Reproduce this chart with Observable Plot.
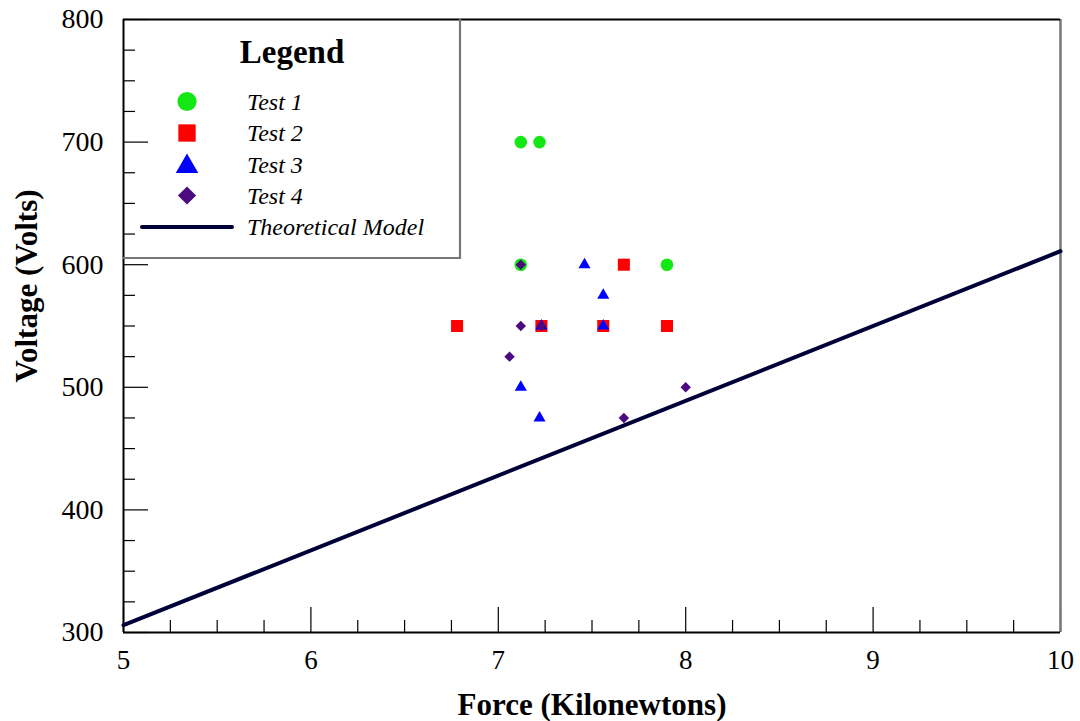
<!DOCTYPE html>
<html>
<head>
<meta charset="utf-8">
<script src="https://cdn.jsdelivr.net/npm/d3@7"></script>
<script src="https://cdn.jsdelivr.net/npm/@observablehq/plot@0.6"></script>
<style>
  html, body { margin: 0; padding: 0; background: #fff; }
  #chart { width: 1080px; height: 721px; }
</style>
</head>
<body>
<div id="chart"></div>
<script>
// ---- data ----
const test1X = [7.12, 7.22, 7.12, 7.90];
const test1Y = [700, 700, 600, 600];
const test2X = [6.78, 7.23, 7.56, 7.67, 7.90];
const test2Y = [550, 550, 550, 600, 550];
const test3X = [7.46, 7.56, 7.23, 7.56, 7.12, 7.22];
const test3Y = [600, 575, 550, 550, 500, 475];
const test4X = [7.12, 7.12, 7.23, 7.06, 8.00, 7.67];
const test4Y = [600, 550, 550, 525, 500, 475];
const modelX = [5, 10];
const modelY = [306, 611];

const xMajor = [5, 6, 7, 8, 9, 10];
const yMajor = [300, 400, 500, 600, 700, 800];
const xMinor = d3.range(5, 10.001, 0.25).filter(v => !xMajor.includes(v));
const yMinor = d3.range(300, 800.001, 25).filter(v => !yMajor.includes(v));

const seriesNames = ["Test 1", "Test 2", "Test 3", "Test 4", "Theoretical Model"];
const colors = ["#14e814", "#ff0000", "#0000ff", "#4b0a7e", "#000038"];
const xTitle = "Force (Kilonewtons)";
const yTitle = "Voltage (Volts)";
const legendTitle = "Legend";

const zip = (xs, ys) => xs.map((x, i) => ({x, y: ys[i]}));

const W = 1080, H = 721;
const mL = 123, mR = 20, mT = 19, mB = 89;
const plotW = W - mL - mR, plotH = H - mT - mB;
const FONT = "'Liberation Serif', 'Times New Roman', serif";

const chart = Plot.plot({
  width: W, height: H,
  marginLeft: mL, marginRight: mR, marginTop: mT, marginBottom: mB,
  style: {fontFamily: FONT, fontSize: "28px", color: "#000", background: "#fff"},
  x: {domain: [5, 10], axis: null},
  y: {domain: [300, 800], axis: null},
  marks: [
    // tick labels
    Plot.text(xMajor, {x: d => d, frameAnchor: "bottom", dy: 28, text: d => String(d), fontSize: 27, fill: "#000", lineAnchor: "middle"}),
    Plot.text(yMajor, {y: d => d, frameAnchor: "left", dx: -20, text: d => String(d), fontSize: 28, fill: "#000", textAnchor: "end", lineAnchor: "middle"}),
    // inward ticks
    Plot.tickX(xMajor, {x: d => d, insetTop: plotH - 25, stroke: "#000", strokeWidth: 1.2}),
    Plot.tickX(xMinor, {x: d => d, insetTop: plotH - 12, stroke: "#000", strokeWidth: 1.2}),
    Plot.tickY(yMajor, {y: d => d, insetRight: plotW - 25, stroke: "#000", strokeWidth: 1.2}),
    Plot.tickY(yMinor, {y: d => d, insetRight: plotW - 12, stroke: "#000", strokeWidth: 1.2}),
    // frame
    Plot.ruleX([10], {stroke: "#777", strokeWidth: 2.5}),
    Plot.ruleY([800], {stroke: "#000", strokeWidth: 2}),
    Plot.ruleX([5], {stroke: "#000", strokeWidth: 2}),
    Plot.ruleY([300], {stroke: "#000", strokeWidth: 2}),
    // model line
    Plot.line(zip(modelX, modelY), {x: "x", y: "y", stroke: colors[4], strokeWidth: 4}),
    // data
    Plot.dot(zip(test1X, test1Y), {x: "x", y: "y", symbol: "circle", r: 6.3, fill: colors[0]}),
    Plot.dot(zip(test2X, test2Y), {x: "x", y: "y", symbol: "square", r: 6.8, fill: colors[1]}),
    Plot.dot(zip(test3X, test3Y), {x: "x", y: "y", symbol: "triangle", r: 4.5, fill: colors[2]}),
    Plot.dot(zip(test4X, test4Y), {x: "x", y: "y", symbol: "diamond2", r: 4.7, fill: colors[3]}),
    // axis titles
    Plot.text([xTitle], {frameAnchor: "bottom", dy: 73, text: d => d, fontSize: 31, fontWeight: "bold", fill: "#000", textAnchor: "middle", lineAnchor: "middle"}),
    Plot.text([yTitle], {frameAnchor: "left", dx: -96, dy: -40, rotate: -90, text: d => d, fontSize: 31, fontWeight: "bold", fill: "#000", textAnchor: "middle", lineAnchor: "middle"})
  ]
});

document.getElementById("chart").appendChild(chart);

// ---- legend (drawn into the svg) ----
const svg = d3.select(chart);
const lg = svg.append("g").attr("font-family", FONT).attr("text-anchor", "start");
const boxL = mL, boxT = mT, boxR = 460, boxB = 258;
lg.append("path")
  .attr("d", `M${boxR},${boxT} L${boxR},${boxB} L${boxL},${boxB}`)
  .attr("fill", "none").attr("stroke", "#777").attr("stroke-width", 2.2);
lg.append("text").attr("x", 292).attr("y", 63).attr("text-anchor", "middle")
  .attr("font-size", 33).attr("font-weight", "bold").attr("fill", "#000").text(legendTitle);
const rowY = [101.5, 133, 164.5, 195.5, 227];
const symTypes = [d3.symbolCircle, d3.symbolSquare, d3.symbolTriangle, d3.symbolDiamond2];
const symSizes = [290, 300, 220, 210];
seriesNames.forEach((name, i) => {
  if (i < 4) {
    lg.append("path")
      .attr("transform", `translate(187,${rowY[i] + (i === 2 ? 2 : 0)})`)
      .attr("d", d3.symbol(symTypes[i], symSizes[i])())
      .attr("fill", colors[i]);
  } else {
    lg.append("line").attr("x1", 142).attr("x2", 232).attr("y1", rowY[i]).attr("y2", rowY[i])
      .attr("stroke", colors[4]).attr("stroke-width", 4).attr("stroke-linecap", "round");
  }
  lg.append("text").attr("x", 247).attr("y", rowY[i] + 8)
    .attr("font-size", 24).attr("font-style", "italic").attr("fill", "#000").text(name);
});
</script>
</body>
</html>
